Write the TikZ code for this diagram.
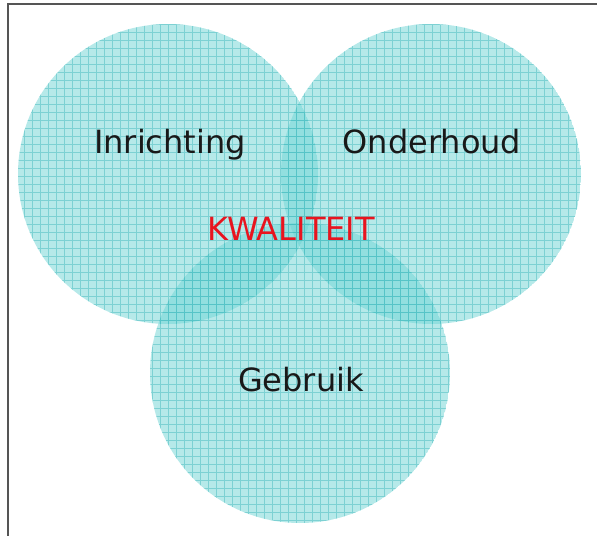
\documentclass[tikz,border=0pt]{standalone}
\usepackage{fontspec}
\setmainfont{DejaVu Sans}
\definecolor{vennfill}{RGB}{110,212,212}
\definecolor{venngrid}{RGB}{40,175,180}
\definecolor{kwalred}{RGB}{232,20,30}
\definecolor{framegray}{RGB}{85,85,85}
\tikzset{
  venntext/.style={font=\fontsize{24}{28}\selectfont, text=black!90, anchor=base, inner sep=0pt},
  venngridline/.style={venngrid, line width=0.7pt, draw opacity=0.4}
}
\newcommand{\venncircle}[2]{%
  \begin{scope}
    \clip (#1,#2) circle (150);
    \fill[vennfill, fill opacity=0.5] (#1,#2) circle (150);
    \draw[venngridline, step=6pt] (#1-152,#2-152) grid (#1+152,#2+152);
  \end{scope}
}

\begin{document}
\begin{tikzpicture}[x=0.75pt,y=-0.75pt]
  %%%%% START %%%%%
  \useasboundingbox (0,0) rectangle (597,536);

  \draw[framegray, line width=1.1pt] (8,536) -- (8,4) -- (597,4);

  \venncircle{168}{174}
  \venncircle{431}{174}
  \venncircle{300}{373}

  \node[venntext] (inrichting) at (170,153) {Inrichting};
  \node[venntext] (onderhoud) at (432,153) {Onderhoud};
  \node[venntext, text=kwalred] (kwaliteit) at (291,240) {KWALITEIT};
  \node[venntext] (gebruik) at (301,391) {Gebruik};

  %%%%% END %%%%%
\end{tikzpicture}
\end{document}
